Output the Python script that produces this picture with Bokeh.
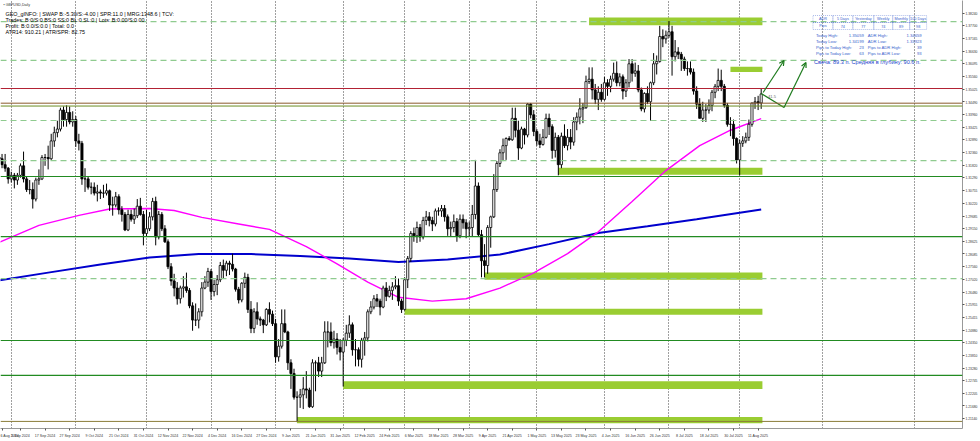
from bokeh.plotting import figure
from bokeh.models import (FixedTicker, Span, Label, Arrow, OpenHead, Range1d, BoxAnnotation)
from bokeh.embed import file_html
from bokeh.resources import INLINE

# ---------------- data (GBPUSD, Daily; bar 0 = 27 Aug 2024, last bar = 12 Aug 2025) ----------------
opens = [1.3215,1.3210,1.3185,1.3170,1.3125,1.3140,1.3120,1.3140,1.3180,1.3125,
1.3080,1.3080,1.3040,1.3120,1.3125,1.3215,1.3215,1.3210,1.3285,1.3320,
1.3335,1.3415,1.3375,1.3405,1.3365,1.3375,1.3285,1.3275,1.3125,1.3125,
1.3090,1.3090,1.3065,1.3070,1.3065,1.3065,1.3075,1.3015,1.3015,1.3050,
1.2995,1.2975,1.2910,1.2975,1.2955,1.2970,1.3010,1.2975,1.2895,1.2915,
1.2965,1.3030,1.2880,1.2975,1.2915,1.2860,1.2755,1.2695,1.2665,1.2620,
1.2665,1.2670,1.2655,1.2590,1.2530,1.2530,1.2565,1.2665,1.2690,1.2735,
1.2650,1.2680,1.2700,1.2760,1.2740,1.2770,1.2765,1.2745,1.2660,1.2615,
1.2685,1.2710,1.2575,1.2495,1.2565,1.2535,1.2530,1.2510,1.2575,1.2555,
1.2515,1.2375,1.2420,1.2515,1.2480,1.2350,1.2305,1.2205,1.2205,1.2215,
1.2240,1.2235,1.2165,1.2350,1.2350,1.2315,1.2350,1.2480,1.2480,1.2435,
1.2450,1.2415,1.2395,1.2445,1.2475,1.2510,1.2405,1.2405,1.2365,1.2445,
1.2455,1.2565,1.2585,1.2620,1.2610,1.2585,1.2665,1.2630,1.2655,1.2670,
1.2675,1.2610,1.2575,1.2700,1.2790,1.2895,1.2885,1.2920,1.2880,1.2950,
1.2965,1.2950,1.2935,1.2990,1.2990,1.3000,1.2965,1.2915,1.2920,1.2945,
1.2885,1.2955,1.2940,1.2915,1.2920,1.2975,1.3095,1.2890,1.2780,1.2760,
1.2920,1.2965,1.3080,1.3190,1.3235,1.3265,1.3295,1.3290,1.3380,1.3330,
1.3255,1.3335,1.3310,1.3440,1.3395,1.3325,1.3285,1.3270,1.3300,1.3380,
1.3345,1.3245,1.3300,1.3185,1.3305,1.3265,1.3300,1.3280,1.3365,1.3385,
1.3420,1.3425,1.3535,1.3545,1.3500,1.3460,1.3490,1.3460,1.3530,1.3515,
1.3545,1.3570,1.3530,1.3555,1.3495,1.3530,1.3610,1.3570,1.3580,1.3500,
1.3420,1.3485,1.3450,1.3530,1.3610,1.3620,1.3725,1.3715,1.3730,1.3745,
1.3640,1.3660,1.3650,1.3630,1.3590,1.3590,1.3575,1.3495,1.3440,1.3380,
1.3415,1.3415,1.3435,1.3490,1.3515,1.3540,1.3515,1.3435,1.3355,1.3355,
1.3295,1.3205,1.3275,1.3285,1.3300,1.3355,1.3445,1.3450,1.3445]
highs = [1.3240,1.3230,1.3230,1.3175,1.3155,1.3150,1.3150,1.3190,1.3240,1.3135,
1.3120,1.3110,1.3130,1.3165,1.3225,1.3230,1.3265,1.3315,1.3345,1.3370,
1.3425,1.3430,1.3435,1.3430,1.3410,1.3390,1.3315,1.3285,1.3170,1.3135,
1.3110,1.3110,1.3100,1.3080,1.3100,1.3105,1.3080,1.3050,1.3070,1.3060,
1.3010,1.2985,1.2995,1.2995,1.3000,1.3040,1.3045,1.2990,1.2995,1.2985,
1.3045,1.3050,1.2990,1.2985,1.2930,1.2870,1.2770,1.2725,1.2690,1.2675,
1.2715,1.2730,1.2665,1.2605,1.2600,1.2580,1.2690,1.2715,1.2750,1.2745,
1.2700,1.2720,1.2775,1.2785,1.2780,1.2780,1.2810,1.2750,1.2670,1.2690,
1.2730,1.2725,1.2610,1.2580,1.2605,1.2545,1.2535,1.2580,1.2605,1.2570,
1.2535,1.2450,1.2575,1.2575,1.2485,1.2365,1.2325,1.2230,1.2240,1.2290,
1.2315,1.2245,1.2365,1.2360,1.2375,1.2375,1.2525,1.2525,1.2520,1.2485,
1.2475,1.2450,1.2455,1.2510,1.2550,1.2520,1.2450,1.2415,1.2455,1.2480,
1.2575,1.2610,1.2635,1.2640,1.2620,1.2675,1.2690,1.2675,1.2690,1.2715,
1.2705,1.2620,1.2710,1.2800,1.2905,1.2920,1.2945,1.2935,1.2965,1.2990,
1.2985,1.2965,1.3000,1.3005,1.3015,1.3015,1.2975,1.2945,1.2975,1.2960,
1.2975,1.2975,1.2955,1.2945,1.3015,1.3205,1.3110,1.2910,1.2850,1.2930,
1.2970,1.3145,1.3200,1.3250,1.3295,1.3300,1.3305,1.3425,1.3425,1.3370,
1.3345,1.3340,1.3445,1.3445,1.3415,1.3335,1.3315,1.3335,1.3400,1.3400,
1.3355,1.3320,1.3310,1.3320,1.3355,1.3335,1.3335,1.3385,1.3405,1.3465,
1.3445,1.3560,1.3595,1.3595,1.3525,1.3515,1.3525,1.3555,1.3545,1.3560,
1.3615,1.3620,1.3570,1.3565,1.3545,1.3630,1.3630,1.3615,1.3605,1.3510,
1.3490,1.3515,1.3535,1.3655,1.3645,1.3770,1.3755,1.3750,1.3790,1.3770,
1.3710,1.3680,1.3660,1.3640,1.3620,1.3620,1.3590,1.3515,1.3465,1.3450,
1.3440,1.3460,1.3500,1.3525,1.3590,1.3585,1.3525,1.3445,1.3385,1.3375,
1.3300,1.3290,1.3305,1.3320,1.3375,1.3445,1.3470,1.3475,1.3506]
lows = [1.3175,1.3170,1.3155,1.3105,1.3110,1.3085,1.3100,1.3130,1.3110,1.3070,
1.3060,1.3000,1.3030,1.3100,1.3120,1.3180,1.3165,1.3205,1.3260,1.3300,
1.3325,1.3345,1.3345,1.3355,1.3345,1.3260,1.3245,1.3100,1.3070,1.3080,
1.3060,1.3055,1.3030,1.3040,1.3045,1.3055,1.2990,1.2970,1.3005,1.2975,
1.2945,1.2905,1.2905,1.2945,1.2935,1.2960,1.2970,1.2845,1.2880,1.2905,
1.2950,1.2845,1.2870,1.2905,1.2855,1.2745,1.2675,1.2630,1.2595,1.2600,
1.2625,1.2645,1.2580,1.2485,1.2505,1.2495,1.2545,1.2660,1.2670,1.2615,
1.2630,1.2635,1.2690,1.2705,1.2715,1.2720,1.2735,1.2650,1.2600,1.2605,
1.2665,1.2560,1.2475,1.2475,1.2510,1.2505,1.2475,1.2505,1.2520,1.2505,
1.2350,1.2355,1.2410,1.2475,1.2320,1.2240,1.2195,1.2100,1.2160,1.2155,
1.2200,1.2160,1.2160,1.2230,1.2290,1.2290,1.2345,1.2415,1.2420,1.2410,
1.2385,1.2360,1.2250,1.2420,1.2455,1.2380,1.2335,1.2335,1.2330,1.2380,
1.2440,1.2555,1.2575,1.2585,1.2550,1.2580,1.2610,1.2625,1.2615,1.2660,
1.2590,1.2560,1.2570,1.2665,1.2775,1.2860,1.2855,1.2860,1.2870,1.2930,
1.2925,1.2905,1.2925,1.2970,1.2965,1.2945,1.2885,1.2880,1.2900,1.2860,
1.2875,1.2915,1.2875,1.2880,1.2880,1.2955,1.2880,1.2710,1.2710,1.2725,
1.2835,1.2960,1.3070,1.3175,1.3200,1.3205,1.3285,1.3285,1.3300,1.3205,
1.3250,1.3270,1.3300,1.3380,1.3305,1.3265,1.3255,1.3265,1.3295,1.3310,
1.3210,1.3215,1.3140,1.3170,1.3255,1.3245,1.3250,1.3265,1.3330,1.3355,
1.3360,1.3420,1.3525,1.3460,1.3440,1.3415,1.3450,1.3455,1.3475,1.3490,
1.3535,1.3515,1.3515,1.3460,1.3470,1.3510,1.3535,1.3555,1.3490,1.3410,
1.3405,1.3440,1.3370,1.3520,1.3565,1.3615,1.3680,1.3695,1.3720,1.3560,
1.3620,1.3630,1.3580,1.3580,1.3560,1.3565,1.3480,1.3420,1.3380,1.3365,
1.3365,1.3400,1.3410,1.3465,1.3495,1.3495,1.3425,1.3345,1.3305,1.3265,
1.3190,1.3140,1.3260,1.3275,1.3285,1.3345,1.3420,1.3415,1.3420]
closes = [1.3210,1.3185,1.3170,1.3125,1.3140,1.3120,1.3140,1.3180,1.3125,1.3080,
1.3080,1.3040,1.3120,1.3125,1.3215,1.3215,1.3210,1.3285,1.3320,1.3335,
1.3415,1.3375,1.3405,1.3365,1.3375,1.3285,1.3275,1.3125,1.3125,1.3090,
1.3090,1.3065,1.3070,1.3065,1.3065,1.3075,1.3015,1.3015,1.3050,1.2995,
1.2975,1.2910,1.2975,1.2955,1.2970,1.3010,1.2975,1.2895,1.2915,1.2965,
1.3030,1.2880,1.2975,1.2915,1.2860,1.2755,1.2695,1.2665,1.2620,1.2665,
1.2670,1.2655,1.2590,1.2530,1.2530,1.2565,1.2665,1.2690,1.2735,1.2650,
1.2680,1.2700,1.2760,1.2740,1.2770,1.2765,1.2745,1.2660,1.2615,1.2685,
1.2710,1.2575,1.2495,1.2565,1.2535,1.2530,1.2510,1.2575,1.2555,1.2515,
1.2375,1.2420,1.2515,1.2480,1.2350,1.2305,1.2205,1.2205,1.2215,1.2240,
1.2235,1.2165,1.2350,1.2350,1.2315,1.2350,1.2480,1.2480,1.2435,1.2450,
1.2415,1.2395,1.2445,1.2475,1.2510,1.2405,1.2405,1.2365,1.2445,1.2455,
1.2565,1.2585,1.2620,1.2610,1.2585,1.2665,1.2630,1.2655,1.2670,1.2675,
1.2610,1.2575,1.2700,1.2790,1.2895,1.2885,1.2920,1.2880,1.2950,1.2965,
1.2950,1.2935,1.2990,1.2990,1.3000,1.2965,1.2915,1.2920,1.2945,1.2885,
1.2955,1.2940,1.2915,1.2920,1.2975,1.3095,1.2890,1.2780,1.2760,1.2920,
1.2965,1.3080,1.3190,1.3235,1.3265,1.3295,1.3290,1.3380,1.3330,1.3255,
1.3335,1.3310,1.3440,1.3395,1.3325,1.3285,1.3270,1.3300,1.3380,1.3345,
1.3245,1.3300,1.3185,1.3305,1.3265,1.3300,1.3280,1.3365,1.3385,1.3420,
1.3425,1.3535,1.3545,1.3500,1.3460,1.3490,1.3460,1.3530,1.3515,1.3545,
1.3570,1.3530,1.3555,1.3495,1.3530,1.3610,1.3570,1.3580,1.3500,1.3420,
1.3485,1.3450,1.3530,1.3610,1.3620,1.3725,1.3715,1.3730,1.3745,1.3640,
1.3660,1.3650,1.3630,1.3590,1.3590,1.3575,1.3495,1.3440,1.3380,1.3415,
1.3415,1.3435,1.3490,1.3515,1.3540,1.3515,1.3435,1.3355,1.3355,1.3295,
1.3205,1.3275,1.3285,1.3300,1.3355,1.3445,1.3450,1.3445,1.3483]

# moving averages (bar index, price): magenta = 100-day, blue = 200-day
ma100_idx = [0,13,26,36,49,57,66,78,88,100,110,120,130,141,152,163,174,185,195,206,217,228,238,248]
ma100_val = [1.2857,1.2929,1.2971,1.2998,1.3000,1.2992,1.2963,1.2935,1.2912,1.2840,1.2767,1.2690,1.2626,1.2610,1.2620,1.2665,1.2729,1.2810,1.2902,1.3030,1.3160,1.3265,1.3330,1.3379]
ma200_idx = [0,16,33,49,65,82,98,114,130,146,163,179,195,211,227,248]
ma200_val = [1.2697,1.2730,1.2764,1.2794,1.2808,1.2808,1.2800,1.2790,1.2775,1.2785,1.2806,1.2850,1.2897,1.2925,1.2955,1.2996]

# date axis labels (bar index -> text)
date_tick_idx = [1,7,15,23,31,39,47,55,63,71,79,87,95,103,111,119,127,135,143,151,159,167,175,183,191,199,207,215,223,231,239,247]
date_tick_txt = ["6 Aug 2024","5 Sep 2024","17 Sep 2024","27 Sep 2024","9 Oct 2024","21 Oct 2024","31 Oct 2024","12 Nov 2024","22 Nov 2024","4 Dec 2024","16 Dec 2024","27 Dec 2024","9 Jan 2025","21 Jan 2025","31 Jan 2025","12 Feb 2025","24 Feb 2025","6 Mar 2025","18 Mar 2025","28 Mar 2025","9 Apr 2025","21 Apr 2025","1 May 2025","13 May 2025","23 May 2025","4 Jun 2025","16 Jun 2025","26 Jun 2025","8 Jul 2025","18 Jul 2025","30 Jul 2025","11 Aug 2025"]
# month-start bars (vertical grid)
month_start_idx = [4,25,48,69,90,112,132,153,175,197,218,241,268,298]

price_ticks = [1.38240,1.37700,1.37165,1.36630,1.36095,1.35560,1.35025,1.34490,1.33960,1.33425,1.32890,1.32360,1.31820,1.31290,1.30755,1.30220,1.29685,1.29150,1.28625,1.28085,1.27560,1.27020,1.26480,1.25955,1.25415,1.24880,1.24350,1.23810,1.23280,1.22745,1.22205,1.21680,1.21140]
bottom_price_label = 1.20605

# horizontal levels
dashed_levels = [1.3788,1.3624,1.3371,1.3202,1.2705]
solid_green_levels = [1.3135,1.2882,1.2444,1.2297]
red_level = 1.35059
brown_levels = [1.3444,1.3432,1.2103]

# zones (start bar, bottom, top); all run to the last bar
zone_start = [192,238,182,158,132,112,97]
zone_bottom = [1.3772,1.3575,1.3142,1.2700,1.2552,1.2240,1.2095]
zone_top = [1.3805,1.3598,1.3172,1.2730,1.2578,1.2272,1.2122]
zone_end = 248.4

last_price = 1.34829

# ---------------- figure ----------------
FW, FH = 965, 428
XR = (0.5, 313.5)
YR = (1.38767 - FH * 0.00042139, 1.38767)
p = figure(width=980, height=441, x_range=Range1d(*XR), y_range=Range1d(*YR),
           output_backend="svg", toolbar_location=None, y_axis_location="right",
           min_border_left=0, min_border_top=0, min_border_right=980 - FW, min_border_bottom=441 - FH)
p.background_fill_color = "white"
p.border_fill_color = "white"
p.outline_line_color = None

# helpers mapping reference-pixel layout positions to data space (annotation placement only)
def px_x(x):
    return XR[0] + x / FW * (XR[1] - XR[0])
def px_y(y):
    return YR[1] - y / FH * (YR[1] - YR[0])

# grid
p.ygrid.visible = False
p.xgrid.ticker = FixedTicker(ticks=month_start_idx)
p.xgrid.grid_line_color = "#000000"
p.xgrid.grid_line_dash = "1 2"
p.xgrid.grid_line_alpha = 0.75
p.xgrid.grid_line_width = 1

# axes
p.yaxis.ticker = FixedTicker(ticks=price_ticks)
p.yaxis.major_label_overrides = {v: f"{v:.5f}" for v in price_ticks}
p.yaxis.major_label_text_font_size = "3.3px"
p.yaxis.major_label_text_color = "#333333"
p.yaxis.axis_line_color = "#999999"
p.yaxis.major_tick_line_color = "#555555"
p.yaxis.major_tick_out = 2
p.yaxis.major_tick_in = 0
p.yaxis.minor_tick_line_color = None
p.yaxis.major_label_standoff = 1

p.xaxis.ticker = FixedTicker(ticks=date_tick_idx)
p.xaxis.major_label_overrides = {i: t for i, t in zip(date_tick_idx, date_tick_txt)}
p.xaxis.major_label_text_font_size = "3.6px"
p.xaxis.major_label_text_color = "#333333"
p.xaxis.major_label_text_align = "left"
p.xaxis.axis_line_color = "#999999"
p.xaxis.major_tick_line_color = "#555555"
p.xaxis.major_tick_out = 2
p.xaxis.major_tick_in = 0
p.xaxis.minor_tick_line_color = None
p.xaxis.major_label_standoff = 3

# levels
for lv in dashed_levels:
    p.add_layout(Span(location=lv, dimension="width", line_color="#8FCB8F", line_dash="6 4", line_width=1.2))
for lv in solid_green_levels:
    p.add_layout(Span(location=lv, dimension="width", line_color="#228B22", line_width=1.2))
p.add_layout(Span(location=red_level, dimension="width", line_color="#B22234", line_width=1.2))
p.add_layout(Span(location=brown_levels[0], dimension="width", line_color="#8B5A2B", line_width=1))
p.add_layout(Span(location=brown_levels[1], dimension="width", line_color="#6B8E23", line_width=1))
p.add_layout(Span(location=brown_levels[2], dimension="width", line_color="#8B7D3A", line_width=1))

# zones
p.quad(left=zone_start, right=[zone_end] * len(zone_start), bottom=zone_bottom, top=zone_top,
       fill_color="#9ACD32", line_color=None)

# MAs
p.line(ma200_idx, ma200_val, line_color="#0000CD", line_width=2)
p.line(ma100_idx, ma100_val, line_color="#FF00FF", line_width=1.4)

# candles
idx = list(range(len(closes)))
inc = [i for i in idx if closes[i] >= opens[i]]
dec = [i for i in idx if closes[i] < opens[i]]
p.segment(idx, highs, idx, lows, line_color="black", line_width=1)
p.vbar(x=inc, width=0.7, top=[closes[i] for i in inc], bottom=[opens[i] for i in inc],
       fill_color="white", line_color="black", line_width=0.8)
p.vbar(x=dec, width=0.7, top=[opens[i] for i in dec], bottom=[closes[i] for i in dec],
       fill_color="black", line_color="black", line_width=0.8)

# projection arrows
ac = "#1E7B1E"
p.line([px_x(763), px_x(786)], [px_y(93), px_y(107)], line_color=ac, line_width=1.2)
p.add_layout(Arrow(end=OpenHead(size=5, line_color=ac, line_width=1.2), x_start=px_x(786), y_start=px_y(107),
                   x_end=px_x(808), y_end=px_y(62), line_color=ac, line_width=1.2))
p.add_layout(Arrow(end=OpenHead(size=5, line_color=ac, line_width=1.2), x_start=px_x(765), y_start=px_y(92),
                   x_end=px_x(786), y_end=px_y(60), line_color=ac, line_width=1.2))
p.add_layout(Label(x=px_x(770), y=px_y(97), text="41.5", text_font_size="4px", text_color="#666666"))

# current price marker and bottom price label on the axis
p.add_layout(Label(x=px_x(966), y=last_price, text=f"{last_price:.5f}", text_font_size="3.3px",
                   text_color="white", background_fill_color="black", text_baseline="middle"))
p.add_layout(Label(x=px_x(967), y=bottom_price_label, text=f"{bottom_price_label:.5f}", text_font_size="3.3px",
                   text_color="#333333", text_baseline="middle"))

# info text
info_lines = ["GEO_gINFO: | SWAP B:-5.30/S:-4.00 | SPR:11.0 | MRG:1348.6 | TCV:",
              "Trades: B:0/S:0 BS:0 SS:0 BL:0 SL:0 | Lots: B:0.00/S:0.00",
              "Profit: B:0.0/S:0.0 | Total: 0.0",
              "ATR14: 910.21 | ATR/SPR: 82.75"]
p.add_layout(Label(x=px_x(3), y=px_y(4), text="\u25aa GBPUSD,Daily", text_font_size="3.6px",
                   text_color="#333333", text_baseline="middle"))
for k, t in enumerate(info_lines):
    p.add_layout(Label(x=px_x(5), y=px_y(13 + 6 * k), text=t, text_font_size="5.4px",
                       text_color="black", text_baseline="middle"))

# ADR table
tb = "#3A5FCD"
hdr = ["ADR", "5 Days", "Yesterday", "Weekly", "Monthly", "100 Days"]
vals = ["Pips", "74", "77", "74", "89", "98"]
col_edges = [815, 835, 855, 876, 895, 912, 929]
for c, (h, v) in enumerate(zip(hdr, vals)):
    l, r = col_edges[c], col_edges[c + 1]
    for top, bot in [(15, 22), (22, 29)]:
        p.add_layout(BoxAnnotation(left=px_x(l), right=px_x(r), top=px_y(top), bottom=px_y(bot),
                                   fill_alpha=0, line_color=tb, line_alpha=0.7, line_dash="1 1", line_width=0.6))
    p.add_layout(Label(x=px_x((l + r) / 2), y=px_y(18.5), text=h, text_font_size="3.8px", text_color=tb,
                       text_baseline="middle", text_align="center"))
    p.add_layout(Label(x=px_x((l + r) / 2), y=px_y(25.5), text=v, text_font_size="3.8px", text_color=tb,
                       text_baseline="middle", text_align="center"))
rows = [("Today High:", "1.35059", "ADR High:", "1.34659"),
        ("Today Low:", "1.34199", "ADR Low:", "1.33923"),
        ("Pips to Today High:", "23", "Pips to ADR High:", "39"),
        ("Pips to Today Low:", "63", "Pips to ADR Low:", "93")]
for k, (a, b, c, d) in enumerate(rows):
    yy = px_y(35 + 6 * k)
    p.add_layout(Label(x=px_x(818), y=yy, text=a, text_font_size="4.2px", text_color=tb, text_baseline="middle"))
    p.add_layout(Label(x=px_x(866), y=yy, text=b, text_font_size="4.2px", text_color=tb, text_baseline="middle", text_align="right"))
    p.add_layout(Label(x=px_x(870), y=yy, text=c, text_font_size="4.2px", text_color=tb, text_baseline="middle"))
    p.add_layout(Label(x=px_x(924), y=yy, text=d, text_font_size="4.2px", text_color=tb, text_baseline="middle", text_align="right"))
p.add_layout(Label(x=px_x(816), y=px_y(61), text="Свеча: 89.3 п. Средняя в глубину: 90.6 п.",
                   text_font_size="5.6px", text_color="#1C3FCC", text_baseline="middle"))

open("out.html", "w").write(file_html(p, INLINE))
